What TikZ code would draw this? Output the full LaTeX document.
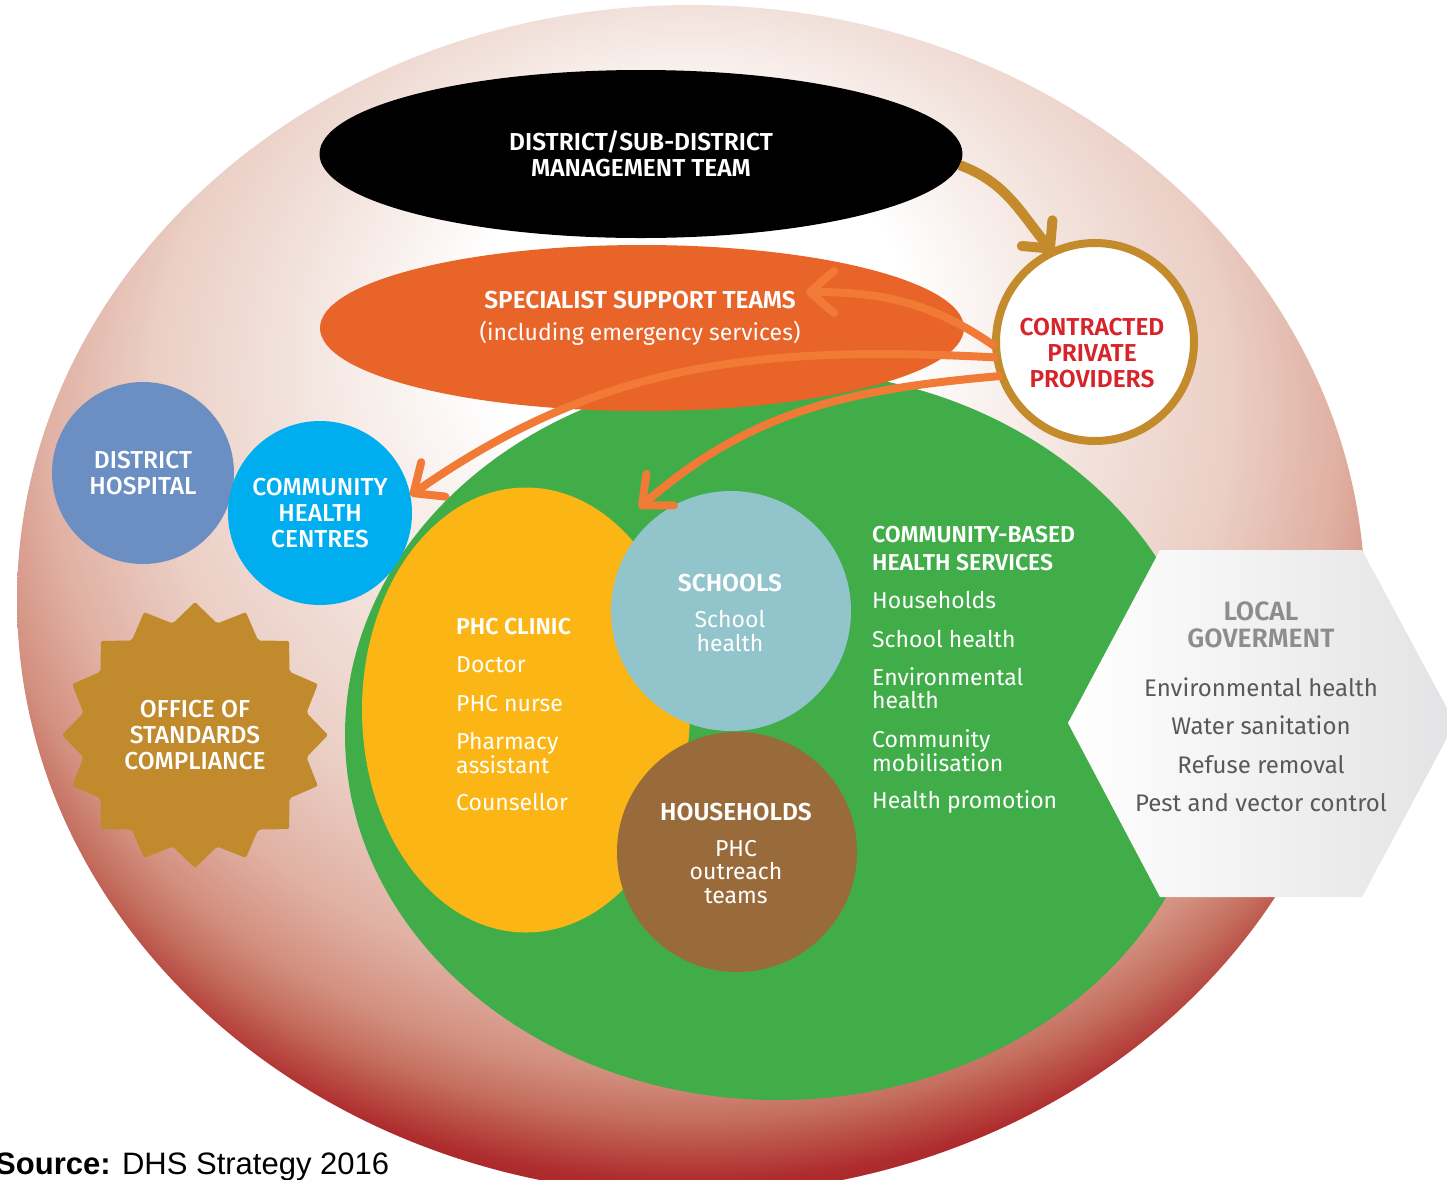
\documentclass[tikz,border=0pt]{standalone}
\usepackage{fontspec}
\IfFontExistsTF{Fira Sans SemiBold}
  {\setmainfont{Fira Sans}[BoldFont={Fira Sans SemiBold}]}
  {\setmainfont{Fira Sans}}
\IfFontExistsTF{Fira Sans Medium}
  {\newfontfamily\medfont{Fira Sans Medium}}
  {\newcommand\medfont{\bfseries}}
\newfontfamily\srcfont{Liberation Sans}
\usetikzlibrary{shapes.geometric,arrows.meta}

\definecolor{sstorange}{HTML}{E96428}
\definecolor{arroworange}{HTML}{F07A36}
\definecolor{cbgreen}{HTML}{41AD49}
\definecolor{phcyellow}{HTML}{FBB615}
\definecolor{schoolblue}{HTML}{92C4CB}
\definecolor{housebrown}{HTML}{9A6B3A}
\definecolor{hospblue}{HTML}{6B8FC3}
\definecolor{chcblue}{HTML}{00AEEF}
\definecolor{officegold}{HTML}{C08A2D}
\definecolor{ringgold}{HTML}{C38B2C}
\definecolor{cppred}{HTML}{D6242A}
\definecolor{lgtitle}{HTML}{8D8D8D}
\definecolor{lgtext}{HTML}{58595B}
\definecolor{hexgray}{HTML}{E3E3E5}
\definecolor{ringA}{HTML}{F2E2DC}
\definecolor{ringB}{HTML}{EBCFC5}
\definecolor{ringC}{HTML}{E0B0A3}
\definecolor{ringD}{HTML}{D3907F}
\definecolor{ringE}{HTML}{C46E5E}
\definecolor{ringF}{HTML}{AE2C2D}
\definecolor{ringG}{HTML}{A51E23}

\pgfdeclareradialshading{ringshade}{\pgfpoint{0bp}{14bp}}{%
  color(0bp)=(white); color(8bp)=(white); color(15bp)=(ringA);
  color(20bp)=(ringB); color(24bp)=(ringC); color(26.5bp)=(ringD);
  color(28bp)=(ringE); color(30bp)=(ringF); color(32bp)=(ringG);
  color(50bp)=(ringG)}

\newcommand\headfont{\fontsize{24.5}{26}\selectfont\bfseries}
\newcommand\listfont{\fontsize{23}{23.5}\selectfont}
\newcommand\roundfont{\fontsize{24.5}{26}\selectfont\medfont}

\begin{document}
\begin{tikzpicture}[x=1pt,y=1pt]

    \tikzset{
      blob/.style = {ellipse, inner sep=0pt, outer sep=0pt},
      disc/.style = {circle, inner sep=0pt, outer sep=0pt},
      headtext/.style = {text=white, align=center, font=\headfont},
      listtext/.style = {text=white, align=left, anchor=base west, inner sep=0pt, font=\listfont},
      roundtext/.style = {text=white, align=center, font=\roundfont},
      link/.style = {draw=arroworange, line width=8pt,
                     -{Straight Barb[length=24pt,width=42pt,round]}} }
    \useasboundingbox (0,0) rectangle (1447,-1179);

    \node[blob, shade, shading=ringshade, minimum width=1348pt, minimum height=1190pt] (district) at (691,-600) {};
    \node[blob, fill=cbgreen, minimum width=866pt, minimum height=730pt] (cbhs) at (778,-735) {};
    \shade[left color=white, right color=hexgray]
      (1068,-723) -- (1160,-550) -- (1362,-550) -- (1455,-723)
      -- (1362,-897) -- (1160,-897) -- cycle;

    \node[blob, fill=black, minimum width=643pt, minimum height=168pt, headtext] (mgmt) at (641,-154) {DISTRICT/SUB-DISTRICT\\MANAGEMENT TEAM};
    \node[blob, fill=sstorange, minimum width=644pt, minimum height=166pt] (sst) at (642,-328) {};
    \node[headtext, anchor=base] (sstlabel) at (640,-308) {SPECIALIST SUPPORT TEAMS};
    \node[text=white, font=\listfont, anchor=base] (sstnote) at (640,-340) {(including emergency services)};

    \node[blob, fill=phcyellow, minimum width=328pt, minimum height=445pt] (phc) at (526,-710) {};
    \node[disc, fill=schoolblue, minimum size=240pt] (schools) at (731,-611) {};
    \node[disc, fill=housebrown, minimum size=240pt] (households) at (737,-852) {};

    \node[disc, fill=hospblue, minimum size=182pt, roundtext] (hospital) at (143,-473) {DISTRICT\\HOSPITAL};
    \node[disc, fill=chcblue, minimum size=184pt, roundtext] (chc) at (320,-513) {COMMUNITY\\HEALTH\\CENTRES};
    \node[star, star points=16, star point ratio=1.17, minimum size=266pt, inner sep=0pt,
          rounded corners=2pt, fill=officegold, roundtext] (office) at (195,-735) {OFFICE OF\\STANDARDS\\COMPLIANCE};

    \node[disc, fill=white, draw=ringgold, line width=8pt, minimum size=198pt] (cpp) at (1095,-342) {};
    \node[headtext, text=cppred] (cpplabel) at (1092,-353) {CONTRACTED\\PRIVATE\\PROVIDERS};

    \node[listtext] (phclist) at (456,-810) {{\bfseries PHC CLINIC}\\[14.5pt]Doctor\\[15.5pt]PHC nurse\\[14.5pt]Pharmacy\\assistant\\[13.5pt]Counsellor};
    \node[headtext, anchor=base] (schoolhead) at (730,-591) {SCHOOLS};
    \node[text=white, font=\listfont, align=center, anchor=base] (schoollist) at (730,-651) {School\\health};
    \node[headtext, anchor=base] (househead) at (736,-820) {HOUSEHOLDS};
    \node[text=white, font=\listfont, align=center, anchor=base] (houselist) at (736,-903) {PHC\\outreach\\teams};
    \node[listtext] (cbhslist) at (872,-808) {{\bfseries COMMUNITY-BASED}\\[4pt]{\bfseries HEALTH SERVICES}\\[14.5pt]Households\\[15.5pt]School health\\[14.5pt]Environmental\\health\\[15.5pt]Community\\mobilisation\\[13.5pt]Health promotion};

    \node[font=\fontsize{26.5}{27}\selectfont\bfseries, text=lgtitle, align=center, anchor=base] (lgtitle) at (1261,-647) {LOCAL\\GOVERMENT};
    \node[font=\fontsize{24}{24}\selectfont, text=lgtext, align=center, anchor=base] (lglist) at (1261,-811) {Environmental health\\[14pt]Water sanitation\\[15pt]Refuse removal\\[14pt]Pest and vector control};

    \coordinate (ssttip) at (806,-292);
    \coordinate (schooltip) at (639,-508);
    \draw[link] (cpp.183) to[out=145, in=0] (ssttip);
    \draw[link] (cpp.189) to[out=177, in=35] (chc.11);
    \draw[link] (cpp.200) to[out=185, in=41] (schooltip);
    \draw[link, draw=ringgold, line width=10pt, -{Straight Barb[length=20pt,width=40pt,round]}] (mgmt.-2) to[out=-20, in=130] (cpp.115);

    \node[anchor=base west, inner sep=0pt, font=\srcfont\fontsize{31}{31}\selectfont] (source) at (-5,-1174) {\textbf{Source:} DHS Strategy 2016};
\end{tikzpicture}
\end{document}
